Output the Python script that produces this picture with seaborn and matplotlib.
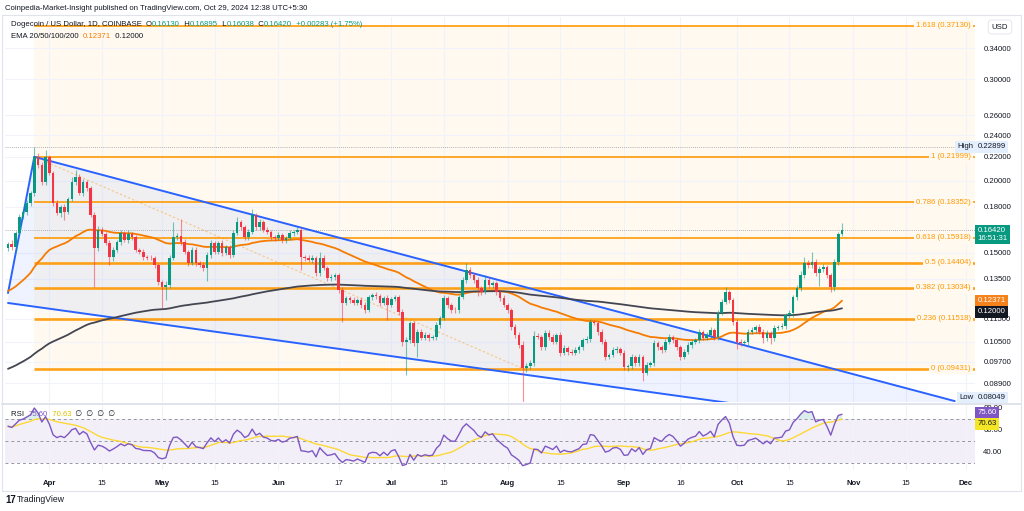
import numpy as np
import pandas as pd
import matplotlib
matplotlib.use("Agg")
import matplotlib.pyplot as plt
from matplotlib.ticker import NullLocator
from matplotlib.patches import Rectangle
from matplotlib.lines import Line2D
import seaborn as sns

# ---- data (DOGE/USD 1D, Coinbase) ----
start_date = "2024-03-21"
first_open = 0.1530

closes = [
    0.1552, 0.1533, 0.1622, 0.1729, 0.1765, 0.1829, 0.1904, 0.2198, 0.2129, 0.1989,
    0.2198, 0.2062, 0.1829, 0.1758, 0.1799, 0.1765, 0.1858, 0.1989, 0.2029, 0.1904,
    0.1989, 0.1941, 0.1743, 0.1527, 0.1642, 0.1616, 0.1558, 0.1474, 0.1516, 0.1564,
    0.1622, 0.1577, 0.1616, 0.1596, 0.1516, 0.1504, 0.1474, 0.1470, 0.1468, 0.1427,
    0.1333, 0.1306, 0.1317, 0.1468, 0.1596, 0.1603, 0.1564, 0.1504, 0.1439, 0.1516,
    0.1439, 0.1427, 0.1409, 0.1486, 0.1558, 0.1504, 0.1558, 0.1498, 0.1533, 0.1486,
    0.1622, 0.1695, 0.1661, 0.1596, 0.1629, 0.1743, 0.1661, 0.1695, 0.1642, 0.1629,
    0.1596, 0.1589, 0.1609, 0.1577, 0.1589, 0.1622, 0.1629, 0.1642, 0.1474, 0.1468,
    0.1456, 0.1468, 0.1382, 0.1468, 0.1409, 0.1354, 0.1360, 0.1371, 0.1291, 0.1226,
    0.1250, 0.1241, 0.1226, 0.1241, 0.1216, 0.1192, 0.1255, 0.1265, 0.1260, 0.1226,
    0.1250, 0.1216, 0.1246, 0.1255, 0.1182, 0.1049, 0.1057, 0.1131, 0.1044, 0.1092,
    0.1066, 0.1079, 0.1066, 0.1070, 0.1122, 0.1154, 0.1250, 0.1216, 0.1192, 0.1190,
    0.1255, 0.1344, 0.1399, 0.1371, 0.1344, 0.1301, 0.1281, 0.1344, 0.1317, 0.1328,
    0.1281, 0.1250, 0.1216, 0.1192, 0.1113, 0.1079, 0.1036, 0.0945, 0.0953, 0.0964,
    0.1075, 0.1070, 0.1027, 0.1088, 0.1070, 0.1049, 0.1079, 0.1004, 0.1023, 0.1008,
    0.1004, 0.1016, 0.1027, 0.1057, 0.1061, 0.1136, 0.1131, 0.1092, 0.1049, 0.0988,
    0.0996, 0.1016, 0.1020, 0.1004, 0.0949, 0.0951, 0.0988, 0.0964, 0.0988, 0.0927,
    0.0957, 0.0964, 0.1044, 0.1027, 0.1016, 0.1049, 0.1070, 0.1057, 0.1027, 0.0988,
    0.1008, 0.1036, 0.1049, 0.1057, 0.1092, 0.1066, 0.1079, 0.1101, 0.1070, 0.1178,
    0.1231, 0.1281, 0.1241, 0.1136, 0.1049, 0.1044, 0.1049, 0.1092, 0.1101, 0.1113,
    0.1092, 0.1066, 0.1088, 0.1066, 0.1110, 0.1113, 0.1118, 0.1168, 0.1178, 0.1255,
    0.1301, 0.1371, 0.1439, 0.1427, 0.1444, 0.1382, 0.1405, 0.1415, 0.1371, 0.1306,
    0.1444, 0.1613, 0.1642,
]

# wick lengths in % beyond the candle body
wick_up = [
    1.0, 1.5, 0.8, 1.2, 1.0, 1.3, 0.9, 4.2, 1.5, 1.2,
    2.8, 1.0, 0.8, 1.4, 1.0, 1.2, 0.9, 2.0, 2.9, 1.1,
    1.3, 1.0, 0.9, 1.2, 1.5, 1.0, 0.8, 1.3, 1.1, 0.9,
    1.2, 1.0, 1.4, 0.8, 1.0, 0.9, 1.1, 0.7, 1.0, 0.8,
    1.0, 0.9, 1.5, 1.2, 6.2, 1.0, 7.0, 1.1, 0.9, 1.3,
    1.0, 0.8, 1.2, 1.0, 1.4, 0.9, 1.0, 1.2, 0.8, 1.0,
    1.1, 2.0, 1.0, 0.9, 1.2, 2.5, 1.0, 1.3, 0.9, 1.0,
    0.8, 1.0, 1.2, 0.9, 1.0, 1.1, 0.8, 1.0, 1.2, 0.9,
    1.0, 1.2, 0.8, 2.4, 1.0, 0.9, 1.1, 1.0, 0.8, 1.2,
    1.0, 0.9, 1.1, 0.8, 1.0, 1.2, 0.9, 1.0, 1.1, 0.8,
    1.0, 1.2, 0.9, 1.0, 0.8, 1.1, 1.4, 1.0, 0.9, 1.2,
    1.0, 1.1, 0.8, 1.0, 1.2, 0.9, 1.3, 1.0, 0.8, 1.1,
    1.0, 1.2, 2.9, 1.0, 0.9, 1.1, 1.0, 2.0, 1.2, 0.9,
    1.0, 0.8, 1.1, 1.0, 0.9, 1.2, 1.0, 1.5, 1.1, 1.3,
    2.0, 1.0, 0.9, 1.2, 1.0, 1.1, 0.8, 1.0, 1.2, 0.9,
    1.0, 1.1, 0.8, 1.0, 1.2, 1.4, 1.0, 0.9, 1.1, 1.0,
    0.8, 1.2, 1.0, 0.9, 1.1, 1.0, 1.2, 0.8, 1.0, 0.9,
    1.1, 1.0, 1.3, 0.9, 1.0, 1.2, 1.1, 0.8, 1.0, 0.9,
    1.0, 1.2, 0.9, 1.0, 1.1, 0.8, 1.0, 1.2, 0.9, 1.3,
    1.1, 2.0, 1.0, 0.9, 1.1, 1.0, 0.8, 1.2, 1.0, 0.9,
    1.1, 1.0, 1.2, 0.8, 1.0, 0.9, 1.1, 1.0, 1.2, 1.0,
    1.3, 1.5, 2.4, 1.0, 4.0, 1.2, 1.0, 1.1, 0.9, 1.0,
    1.2, 1.0, 2.9,
]
wick_dn = [
    1.2, 1.0, 1.5, 1.0, 0.9, 1.2, 1.0, 1.3, 1.0, 1.1,
    1.0, 0.9, 1.2, 1.0, 1.5, 3.2, 1.0, 0.9, 1.1, 1.0,
    1.2, 1.0, 0.9, 14.5, 1.2, 1.0, 0.9, 3.0, 1.5, 1.0,
    1.1, 0.9, 1.0, 1.2, 0.9, 1.0, 1.1, 0.8, 1.0, 1.2,
    1.0, 7.9, 5.0, 1.0, 0.9, 1.2, 1.0, 0.8, 1.1, 1.0,
    1.2, 0.9, 1.0, 5.0, 1.2, 1.0, 0.9, 1.1, 1.0, 1.2,
    1.0, 0.9, 1.1, 1.0, 1.2, 0.8, 1.0, 1.1, 0.9, 1.0,
    1.2, 1.0, 0.9, 1.1, 1.0, 0.8, 1.2, 1.0, 5.0, 1.1,
    0.9, 1.0, 1.2, 1.0, 0.9, 1.1, 1.0, 1.2, 1.0, 7.3,
    1.0, 1.1, 0.9, 1.0, 1.2, 1.0, 0.9, 1.1, 1.0, 1.2,
    1.0, 6.0, 0.9, 1.0, 1.2, 1.5, 12.4, 1.0, 1.2, 5.4,
    1.0, 0.9, 1.1, 1.0, 1.2, 1.0, 0.9, 1.1, 1.0, 1.2,
    1.0, 0.9, 1.1, 1.0, 1.2, 3.0, 1.0, 0.9, 1.1, 1.0,
    1.2, 1.0, 0.9, 1.1, 1.0, 1.2, 1.0, 14.8, 1.5, 1.2,
    1.0, 0.9, 1.1, 1.0, 1.2, 1.0, 0.9, 1.1, 1.0, 1.2,
    1.0, 0.9, 1.1, 1.0, 1.2, 1.0, 0.9, 1.1, 1.0, 1.2,
    1.0, 0.9, 1.1, 1.0, 1.2, 1.5, 0.9, 1.1, 1.0, 3.2,
    1.0, 0.9, 1.1, 1.0, 1.2, 1.0, 0.9, 1.1, 1.0, 1.2,
    1.0, 0.9, 1.1, 1.0, 1.2, 1.0, 0.9, 1.1, 1.0, 1.2,
    1.0, 0.9, 1.1, 1.0, 2.7, 1.0, 0.9, 1.1, 1.0, 1.2,
    1.0, 2.0, 1.1, 2.5, 1.2, 1.0, 0.9, 1.1, 1.0, 1.5,
    1.0, 1.2, 1.1, 1.0, 1.2, 1.0, 5.0, 1.1, 1.0, 2.0,
    1.5, 1.0, 0.57,
]

# indicator seeds (values at the first visible bar)
ema50_start = 0.1276
ema200_start = 0.0936
rsi_gain_start = 0.0052
rsi_loss_start = 0.0031

# values printed in the legends / price scale
ema50_last, ema200_last = 0.12371, 0.12000
rsi_last, rsi_ma_last = 75.60, 70.63

fib_ratios = ["0", "0.236", "0.382", "0.5", "0.618", "0.786", "1", "1.618"]
fib_prices = [0.09431, 0.11518, 0.13034, 0.14404, 0.15918, 0.18352, 0.21999, 0.37130]
fib_start_day = 7

# drawn trend lines: (day index, price)
upper_line = [(7, 0.2200), (252, 0.0828)]
lower_line = [(0, 0.1226), (252, 0.0725)]
left_line = [(0, 0.1276), (7, 0.2200)]
fib_trend = [(7, 0.21999), (137, 0.09431)]

high_value = 0.22899
low_value = 0.08049
last_price = 0.16420

price_ticks = [0.34, 0.30, 0.26, 0.24, 0.22, 0.20, 0.18, 0.15, 0.135, 0.115, 0.105, 0.097, 0.089]
rsi_ticks = [40, 60, 80]
tick_dates = ["2024-04-01", "2024-04-15", "2024-05-01", "2024-05-15", "2024-06-01", "2024-06-17",
              "2024-07-01", "2024-07-15", "2024-08-01", "2024-08-15", "2024-09-01", "2024-09-16",
              "2024-10-01", "2024-10-15", "2024-11-01", "2024-11-15", "2024-12-01"]
tick_labels = ["Apr", "15", "May", "15", "Jun", "17", "Jul", "15", "Aug", "15",
               "Sep", "16", "Oct", "15", "Nov", "15", "Dec"]

# ---- derived series ----
closes = np.array(closes)
opens = np.r_[first_open, closes[:-1]]
body_top = np.maximum(opens, closes)
body_bot = np.minimum(opens, closes)
highs = body_top * (1 + np.array(wick_up) / 100)
lows = body_bot * (1 - np.array(wick_dn) / 100)
days = np.arange(len(closes))


def ema(values, length, seed):
    a = 2 / (length + 1)
    out, e = [], seed
    for v in values:
        e = a * v + (1 - a) * e
        out.append(e)
    return np.array(out)


ema50 = ema(closes, 50, ema50_start)
ema200 = ema(closes, 200, ema200_start)

chg = np.diff(np.r_[first_open, closes])
ag, al = rsi_gain_start, rsi_loss_start
rsi = []
for g, l in zip(np.clip(chg, 0, None), np.clip(-chg, 0, None)):
    ag = (ag * 13 + g) / 14
    al = (al * 13 + l) / 14
    rsi.append(100 - 100 / (1 + ag / al))
rsi = np.array(rsi)
rsi_ma = pd.Series(rsi).rolling(14, min_periods=1).mean().values

tick_pos = (pd.to_datetime(tick_dates) - pd.Timestamp(start_date)).days.values

# ---- style ----
sns.set_theme(style="white")
plt.rcParams["font.family"] = ["Liberation Sans", "DejaVu Sans"]
GREEN, RED = "#089981", "#f23645"
ORANGE, FIBC = "#f57c00", "#ff9800"
FIB_BG = "#fff9f0"
TXT = "#131722"
FS = 5.6

W, H = 1024, 511
fig = plt.figure(figsize=(W / 100, H / 100), dpi=100)
ax = fig.add_axes([5 / W, 1 - 402 / H, 970 / W, 385 / H])
rax = fig.add_axes([5 / W, 1 - 470 / H, 970 / W, 65 / H], sharex=ax)

xlim = (-0.8, 257.4)
ax.set_yscale("log")
ax.set_ylim(0.0825, 0.3849)
ax.set_xlim(*xlim)

# grid
for p in price_ticks:
    ax.axhline(p, color="#f0f3fa", lw=0.8, zorder=0.5)
for t in tick_pos:
    ax.axvline(t, color="#f0f3fa", lw=0.8, zorder=0.5)
    rax.axvline(t, color="#f0f3fa", lw=0.8, zorder=0.5)

# fib background and levels
ax.fill_between([fib_start_day, xlim[1]], fib_prices[0], fib_prices[-1], color=FIB_BG, zorder=0.3, lw=0)
for r, p in zip(fib_ratios, fib_prices):
    lw = 1.3 if float(r) >= 0.618 else 1.9
    ax.plot([fib_start_day, xlim[1]], [p, p], color=FIBC, lw=lw, alpha=0.9, zorder=2, solid_capstyle="butt")
    ax.text((971 - 5) / 970, p, f"{r} ({p:.5f})", transform=ax.get_yaxis_transform(),
            ha="right", va="center", fontsize=FS, color=FIBC, zorder=6,
            bbox=dict(boxstyle="square,pad=0.3", fc=FIB_BG, ec="none"))

# channel fill and lines
poly_x = [left_line[0][0], upper_line[0][0], upper_line[1][0], lower_line[1][0], lower_line[0][0]]
poly_y = [left_line[0][1], upper_line[0][1], upper_line[1][1], lower_line[1][1], lower_line[0][1]]
ax.fill(poly_x, poly_y, color="#2962ff", alpha=0.07, lw=0, zorder=1)
for line in (upper_line, lower_line, left_line):
    xs, ys = zip(*line)
    ax.plot(xs, ys, color="#2962ff", lw=1.4, zorder=2.5)
xs, ys = zip(*fib_trend)
ax.plot(xs, ys, color=FIBC, lw=0.8, ls=(0, (2, 2)), alpha=0.45, zorder=2.4)

# dotted reference lines
ax.axhline(high_value, color="#9598a1", lw=0.6, ls=(0, (1, 1.5)), zorder=2)
ax.axhline(last_price, color="#9598a1", lw=0.6, ls=(0, (1, 1.5)), zorder=2)

# EMAs
sns.lineplot(x=days, y=ema50, ax=ax, color=ORANGE, lw=1.3, zorder=3)
sns.lineplot(x=days, y=ema200, ax=ax, color="#434651", lw=1.3, zorder=3)

# candles
colors = np.where(closes >= opens, GREEN, RED)
ax.vlines(days, lows, highs, colors=colors, lw=0.8, alpha=0.55, zorder=3.5)
ax.bar(days, body_top - body_bot, bottom=body_bot, width=0.7, color=colors, lw=0, zorder=4)

# price axis
ax.yaxis.tick_right()
ax.yaxis.set_minor_locator(NullLocator())
ax.set_yticks(price_ticks)
ax.set_yticklabels([f"{p:.5f}" for p in price_ticks])
ax.tick_params(axis="y", length=0, pad=6, labelsize=FS, labelcolor=TXT)
ax.tick_params(axis="x", length=0, labelbottom=False)
ax.set_xlabel("")
ax.set_ylabel("")
for s in ax.spines.values():
    s.set_visible(False)

ycoord = ("axes fraction", "data")


def price_box(text, y, fc, tc, dy=0.0, ha="left", dx=2, coords=ycoord):
    a = ax.annotate(text, xy=(1, y), xycoords=coords, xytext=(dx, dy), textcoords="offset points",
                    ha=ha, va="center", fontsize=FS, color=tc, annotation_clip=False, zorder=7,
                    linespacing=1.15, bbox=dict(boxstyle="square,pad=0.3", fc=fc, ec="none"))
    a.set_clip_on(False)


price_box("High", high_value, "#e3effd", TXT, ha="right", dx=-1)
price_box(f"{high_value:.5f}", high_value, "#e3effd", TXT)
price_box(f"{last_price:.5f}\n16:51:31", last_price, GREEN, "white", dy=-3.2)
price_box(f"{ema50_last:.5f}", ema50_last, "#f7821b", "white")
price_box(f"{ema200_last:.5f}", ema200_last, "#131722", "white", dy=-2.6)
price_box("Low", 0.0104, "#e3effd", TXT, ha="right", dx=-1, coords="axes fraction")
price_box(f"{low_value:.5f}", 0.0104, "#e3effd", TXT, coords="axes fraction")

# RSI pane
rax.set_ylim(23.6, 82.7)
rax.axhspan(30, 70, color="#7e57c2", alpha=0.09, lw=0, zorder=0.4)
for lvl in (70, 50, 30):
    rax.axhline(lvl, color="#9598a1", lw=0.7, ls=(0, (3, 3)), zorder=1)
rax.fill_between(days, 70, rsi, where=rsi > 70, color=GREEN, alpha=0.15, lw=0, interpolate=True)
sns.lineplot(x=days, y=rsi_ma, ax=rax, color="#fdd835", lw=1.0, zorder=2)
sns.lineplot(x=days, y=rsi, ax=rax, color="#7e57c2", lw=1.0, zorder=3)
rax.yaxis.tick_right()
rax.set_yticks(rsi_ticks)
rax.set_yticklabels([f"{v:.2f}" for v in rsi_ticks])
rax.tick_params(axis="y", length=0, pad=6, labelsize=FS, labelcolor=TXT)
rax.set_xticks(tick_pos)
rax.set_xticklabels(tick_labels)
rax.tick_params(axis="x", length=0, pad=7, labelsize=FS, labelcolor=TXT)
for lab in rax.get_xticklabels():
    if not lab.get_text().isdigit():
        lab.set_fontweight("bold")
rax.set_xlabel("")
rax.set_ylabel("")
for s in rax.spines.values():
    s.set_visible(False)


def rsi_box(text, y, fc, tc, dy=0.0):
    a = rax.annotate(text, xy=(1, y), xycoords=("axes fraction", "data"), xytext=(2, dy),
                     textcoords="offset points", ha="left", va="center", fontsize=FS, color=tc,
                     annotation_clip=False, zorder=7, bbox=dict(boxstyle="square,pad=0.3", fc=fc, ec="none"))
    a.set_clip_on(False)


rsi_box(f"{rsi_last:.2f}", rsi_last, "#7e57c2", "white")
rsi_box(f"{rsi_ma_last:.2f}", rsi_ma_last, "#f5e625", TXT, dy=-4)


# ---- header and legends ----
def chain(host, x, y, parts, size=FS):
    t = fig.text(x / W, 1 - y / H, parts[0][0], color=parts[0][1], fontsize=size, va="center", ha="left", zorder=8)
    for s, c in parts[1:]:
        t = host.annotate(s, xy=(1, 0), xycoords=t, color=c, fontsize=size, va="bottom", ha="left",
                          annotation_clip=False, zorder=8)
        t.set_clip_on(False)


chain(ax, 5, 9, [("Coinpedia-Market-Insight published on TradingView.com, Oct 29, 2024 12:38 UTC+5:30", TXT)])
chain(ax, 11, 25, [("Dogecoin / US Dollar, 1D, COINBASE  ", TXT), ("O", TXT), ("0.16130", GREEN),
                   ("  H", TXT), ("0.16895", GREEN), ("  L", TXT), ("0.16038", GREEN),
                   ("  C", TXT), ("0.16420", GREEN), ("  +0.00283 (+1.75%)", GREEN)])
chain(ax, 11, 37, [("EMA 20/50/100/200  ", TXT), (f"{ema50_last:.5f}", ORANGE), (f"  {ema200_last:.5f}", TXT)])
chain(rax, 11, 414, [("RSI  ", TXT), (f"{rsi_last:.2f}", "#7e57c2"), (f"  {rsi_ma_last:.2f}", "#e0c200"),
                     ("  \u2205  \u2205  \u2205  \u2205", TXT)])

# USD box
fig.text(1000 / W, 1 - 27 / H, "USD", fontsize=FS, color=TXT, ha="center", va="center",
         bbox=dict(boxstyle="round,pad=0.45", fc="white", ec="#e0e3eb", lw=0.6))

# frame and separators
fig.add_artist(Rectangle((2 / W, 1 - 491 / H), 1019 / W, 476 / H, transform=fig.transFigure,
                         fill=False, ec="#e0e3eb", lw=0.8))
fig.add_artist(Line2D([2 / W, 1021 / W], [1 - 403.5 / H] * 2, transform=fig.transFigure,
                      color="#e0e3eb", lw=1.4))

# footer logo
fig.text(5 / W, 1 - 500 / H, "17", fontsize=7, fontweight="bold", color=TXT, va="center")
fig.text(17 / W, 1 - 500 / H, "TradingView", fontsize=6.2, color=TXT, va="center")

fig.savefig("out.png", dpi=100)
